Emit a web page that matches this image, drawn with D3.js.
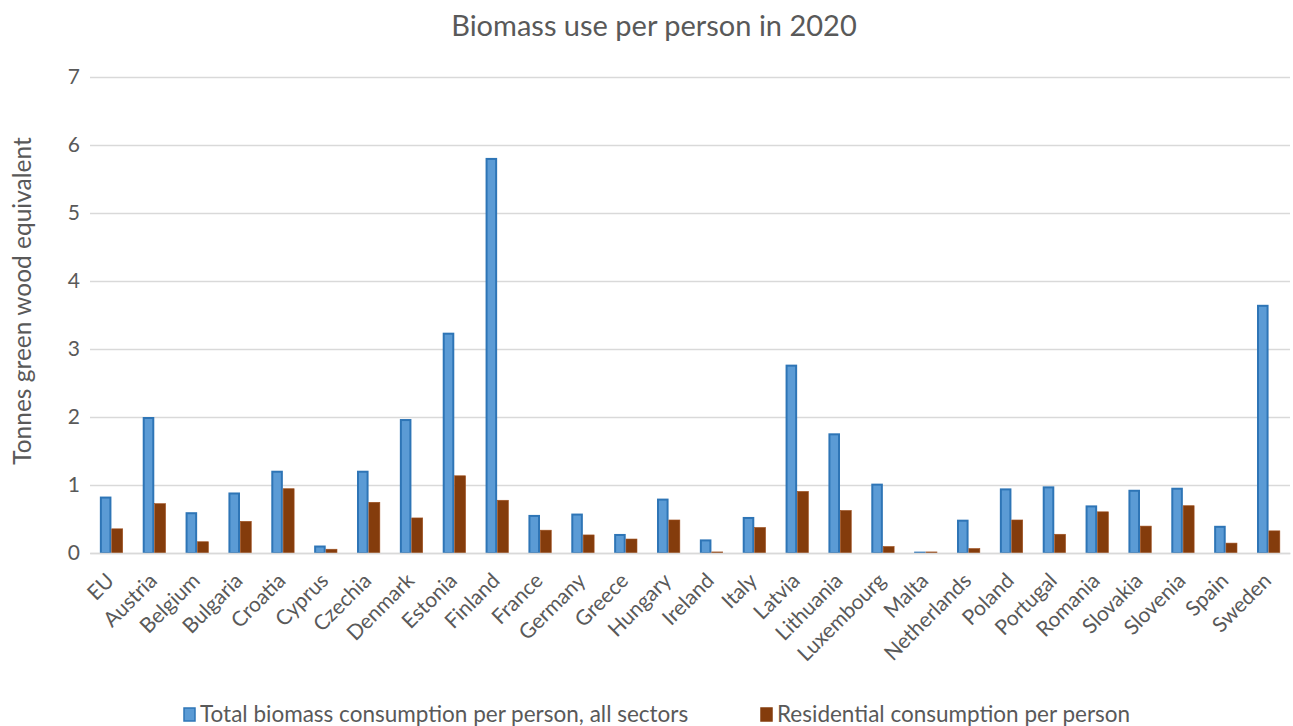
<!DOCTYPE html>
<html>
<head>
<meta charset="utf-8">
<script src="https://cdn.jsdelivr.net/npm/d3@7"></script>
<style>
  html, body { margin: 0; padding: 0; background: #fff; }
  svg { display: block; font-family: Lato, "Open Sans", sans-serif; }
</style>
</head>
<body>
<svg id="chart" width="1293" height="726"></svg>
<script>
// Biomass use per person, 2020 (tonnes green wood equivalent)
const countries = ["EU", "Austria", "Belgium", "Bulgaria", "Croatia", "Cyprus", "Czechia",
  "Denmark", "Estonia", "Finland", "France", "Germany", "Greece", "Hungary", "Ireland",
  "Italy", "Latvia", "Lithuania", "Luxembourg", "Malta", "Netherlands", "Poland",
  "Portugal", "Romania", "Slovakia", "Slovenia", "Spain", "Sweden"];

const totalPerPerson = [0.83, 2.00, 0.60, 0.89, 1.21, 0.11, 1.21,
  1.97, 3.24, 5.81, 0.56, 0.58, 0.28, 0.80, 0.20,
  0.53, 2.77, 1.76, 1.02, 0.02, 0.49, 0.95,
  0.98, 0.70, 0.93, 0.96, 0.40, 3.65];

const residentialPerPerson = [0.36, 0.73, 0.17, 0.47, 0.95, 0.06, 0.75,
  0.52, 1.14, 0.78, 0.34, 0.27, 0.21, 0.49, 0.02,
  0.38, 0.91, 0.63, 0.10, 0.02, 0.07, 0.49,
  0.28, 0.61, 0.40, 0.70, 0.15, 0.33];

const seriesNames = ["Total biomass consumption per person, all sectors",
  "Residential consumption per person"];
const yTicks = [0, 1, 2, 3, 4, 5, 6, 7];

const svg = d3.select("#chart");
const margin = { left: 90, right: 3, top: 77, bottom: 173 };
const W = 1293, H = 726;

const x = d3.scaleBand().domain(countries)
  .range([margin.left, W - margin.right])
  .paddingInner(0.46).paddingOuter(0.23);
const sub = d3.scaleBand().domain([0, 1]).range([0, x.bandwidth()]);
const y = d3.scaleLinear().domain([0, 7]).range([H - margin.bottom, margin.top]);

const textColor = "#595959";

// Title
svg.append("text")
  .attr("x", 654).attr("y", 36)
  .attr("text-anchor", "middle")
  .attr("font-size", 29).attr("fill", textColor)
  .text("Biomass use per person in 2020");

// Gridlines and y labels
const yAxis = d3.axisLeft(y).tickValues(yTicks).tickFormat(d3.format("d"))
  .tickSize(-(W - margin.left - margin.right)).tickPadding(10);
const gy = svg.append("g").attr("transform", `translate(${margin.left},0)`).call(yAxis);
gy.select(".domain").remove();
gy.selectAll(".tick line").attr("stroke", "#d9d9d9").attr("stroke-width", 1.5);
gy.selectAll(".tick text").attr("font-size", 21).attr("fill", textColor)
  .attr("font-family", "Lato, sans-serif");

// Y axis title
svg.append("text")
  .attr("transform", `translate(31, 301) rotate(-90)`)
  .attr("text-anchor", "middle")
  .attr("font-size", 24.5).attr("fill", textColor)
  .text("Tonnes green wood equivalent");

// Bars
const series = [
  { values: totalPerPerson, fill: "#5b9bd5", stroke: "#2e75b6", sw: 2 },
  { values: residentialPerPerson, fill: "#843c0c", stroke: "#a0501f", sw: 0.6 }
];
series.forEach((s, i) => {
  svg.append("g").selectAll("rect")
    .data(countries.map((c, k) => ({ c, v: s.values[k] })))
    .join("rect")
    .attr("x", d => x(d.c) + sub(i) + s.sw / 2)
    .attr("y", d => y(d.v) + s.sw / 2)
    .attr("width", sub.bandwidth() - s.sw)
    .attr("height", d => Math.max(0, y(0) - y(d.v) - s.sw / 2))
    .attr("fill", s.fill)
    .attr("stroke", s.stroke)
    .attr("stroke-width", s.sw);
});

// Category axis
const xAxis = d3.axisBottom(x).tickSize(0).tickPadding(0);
const gx = svg.append("g").attr("transform", `translate(0,${y(0)})`).call(xAxis);
gx.select(".domain").attr("stroke", "#d9d9d9").attr("stroke-width", 1.5);
gx.selectAll(".tick text")
  .attr("font-size", 21).attr("fill", textColor)
  .attr("font-family", "Lato, sans-serif")
  .attr("text-anchor", "end")
  .attr("dy", 0)
  .attr("transform", "translate(4,29) rotate(-45)");

// Legend
const legend = [
  { name: seriesNames[0], x: 183, fill: "#5b9bd5", stroke: "#2e75b6" },
  { name: seriesNames[1], x: 760, fill: "#843c0c", stroke: "#843c0c" }
];
const lg = svg.append("g");
legend.forEach(l => {
  lg.append("rect").attr("x", l.x + 1).attr("y", 708).attr("width", 11).attr("height", 13)
    .attr("fill", l.fill).attr("stroke", l.stroke).attr("stroke-width", 1.5);
  lg.append("text").attr("x", l.x + 17).attr("y", 722)
    .attr("font-size", 22.5).attr("fill", textColor).text(l.name);
});
</script>
</body>
</html>
